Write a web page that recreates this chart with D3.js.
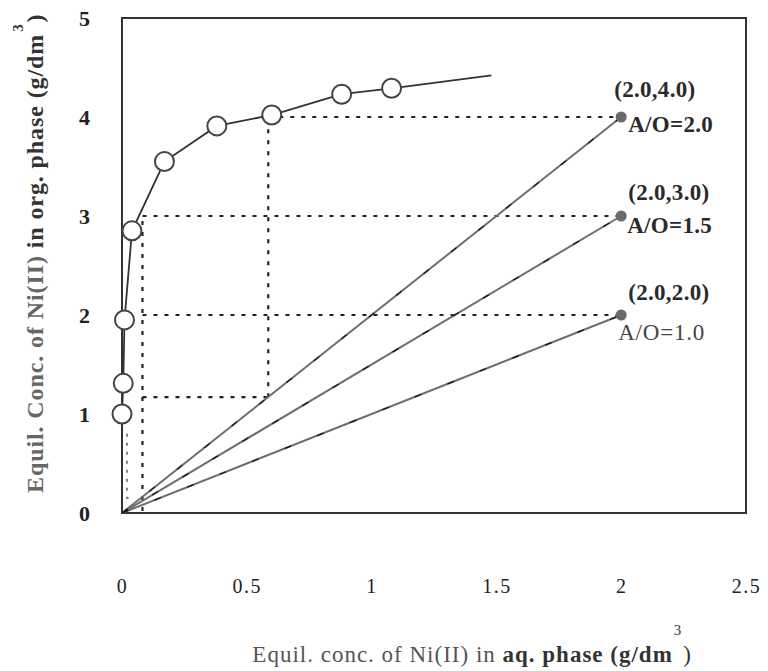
<!DOCTYPE html>
<html>
<head>
<meta charset="utf-8">
<script src="https://cdn.jsdelivr.net/npm/d3@7"></script>
<style>
  body { margin: 0; background: #fff; }
  text { font-family: "Liberation Serif", "Times New Roman", serif; }
</style>
</head>
<body>
<div id="svgTarget"></div>
<script>
// extraction isotherm (open circles)
const isoX = [0, 0.005, 0.01, 0.04, 0.17, 0.38, 0.6, 0.88, 1.08];
const isoY = [1.0, 1.31, 1.95, 2.85, 3.55, 3.91, 4.02, 4.23, 4.29];
const isoEnd = [1.48, 4.42];

// operating lines from origin
const opLabels = ["A/O=2.0", "A/O=1.5", "A/O=1.0"];
const opEndX = [2.0, 2.0, 2.0];
const opEndY = [4.0, 3.0, 2.0];
const opCoords = ["(2.0,4.0)", "(2.0,3.0)", "(2.0,2.0)"];

// McCabe-Thiele steps (dotted): [x1, y1, x2, y2]
const steps = [
  [0.63, 4.0, 2.0, 4.0],
  [0.586, 1.17, 0.586, 3.98],
  [0.082, 3.0, 2.0, 3.0],
  [0.082, 2.0, 2.0, 2.0],
  [0.082, 1.17, 0.586, 1.17],
  [0.082, 0.02, 0.082, 3.0]
];
// faint inner step near the origin
const innerStep = [[0.02, 0.8], [0.02, 0.15], [0.032, 0.15]];

const xTicks = [0, 0.5, 1, 1.5, 2, 2.5];
const yTicks = [0, 1, 2, 3, 4, 5];

const margin = { top: 18, right: 22, bottom: 158, left: 122 };
const width = 768, height = 671;
const w = width - margin.left - margin.right;
const h = height - margin.top - margin.bottom;

const svg = d3.select("#svgTarget")
  .append("svg")
    .attr("width", width)
    .attr("height", height);

const g = svg.append("g")
  .attr("transform", `translate(${margin.left}, ${margin.top})`);

const x = d3.scaleLinear().domain([0, 2.5]).range([0, w]);
const y = d3.scaleLinear().domain([0, 5]).range([h, 0]);

// axes (labels only, no ticks)
const xAxis = g.append("g")
  .attr("transform", `translate(0, ${h})`)
  .call(d3.axisBottom(x).tickValues(xTicks).tickSize(0).tickPadding(66)
    .tickFormat(d => String(d)));
xAxis.select(".domain").remove();
xAxis.selectAll("text")
  .attr("font-size", 20)
  .attr("letter-spacing", 1.5)
  .attr("fill", "#222")
  .style("font-family", "Liberation Serif");

const yAxis = g.append("g")
  .call(d3.axisLeft(y).tickValues(yTicks).tickSize(0).tickPadding(32)
    .tickFormat(d => String(d)));
yAxis.select(".domain").remove();
yAxis.selectAll("text")
  .attr("font-size", 22)
  .attr("font-weight", "bold")
  .attr("fill", "#222")
  .style("font-family", "Liberation Serif");

// frame
g.append("rect")
  .attr("x", 0).attr("y", 0)
  .attr("width", w).attr("height", h)
  .attr("fill", "none")
  .attr("stroke", "#333")
  .attr("stroke-width", 2);

// dotted construction lines
g.selectAll(".step")
  .data(steps)
  .enter()
  .append("line")
    .attr("class", "step")
    .attr("x1", d => x(d[0])).attr("y1", d => y(d[1]))
    .attr("x2", d => x(d[2])).attr("y2", d => y(d[3]))
    .attr("stroke", "#222")
    .attr("stroke-width", 2.2)
    .attr("stroke-dasharray", "4,7");

g.append("path")
  .datum(innerStep)
  .attr("d", d3.line().x(d => x(d[0])).y(d => y(d[1])))
  .attr("fill", "none")
  .attr("stroke", "#777")
  .attr("stroke-width", 1.8)
  .attr("stroke-dasharray", "3,6");

// operating lines
const ops = opEndX.map((v, i) => ({ x: v, y: opEndY[i], label: opLabels[i], coord: opCoords[i] }));

g.selectAll(".op")
  .data(ops)
  .enter()
  .append("line")
    .attr("class", "op")
    .attr("x1", x(0)).attr("y1", y(0))
    .attr("x2", d => x(d.x)).attr("y2", d => y(d.y))
    .attr("stroke", "#6e6e6e")
    .attr("stroke-width", 2);

g.selectAll(".opDash")
  .data(ops)
  .enter()
  .append("line")
    .attr("class", "opDash")
    .attr("x1", x(0)).attr("y1", y(0))
    .attr("x2", d => x(d.x)).attr("y2", d => y(d.y))
    .attr("stroke", "#111")
    .attr("stroke-width", 1.2)
    .attr("stroke-dasharray", "7,28");

g.selectAll(".opDot")
  .data(ops)
  .enter()
  .append("circle")
    .attr("class", "opDot")
    .attr("cx", d => x(d.x)).attr("cy", d => y(d.y))
    .attr("r", 5.5)
    .attr("fill", "#6a6a6a");

// labels next to the end points
const coordDx = { 4: -7, 3: 7, 2: 7 };
const coordDy = { 4: -20, 3: -16, 2: -15 };
const aoDx = { 4: 7, 3: 6, 2: -3 };
const aoDy = { 4: 15, 3: 17, 2: 25 };

g.selectAll(".coordLabel")
  .data(ops)
  .enter()
  .append("text")
    .attr("class", "coordLabel")
    .attr("x", d => x(d.x) + coordDx[d.y])
    .attr("y", d => y(d.y) + coordDy[d.y])
    .attr("font-size", 23)
    .attr("font-weight", "bold")
    .attr("letter-spacing", 0.3)
    .attr("fill", "#2a2a2a")
    .text(d => d.coord);

g.selectAll(".aoLabel")
  .data(ops)
  .enter()
  .append("text")
    .attr("class", "aoLabel")
    .attr("x", d => x(d.x) + aoDx[d.y])
    .attr("y", d => y(d.y) + aoDy[d.y])
    .attr("font-size", 23)
    .attr("font-weight", d => d.y === 2 ? "normal" : "bold")
    .attr("letter-spacing", d => d.y === 2 ? 0.8 : 0.3)
    .attr("fill", d => d.y === 2 ? "#444" : "#2a2a2a")
    .text(d => d.label);

// isotherm
const isoPts = [[0, 0]].concat(isoX.map((v, i) => [v, isoY[i]])).concat([isoEnd]);
g.append("path")
  .datum(isoPts)
  .attr("d", d3.line().x(d => x(d[0])).y(d => y(d[1])))
  .attr("fill", "none")
  .attr("stroke", "#333")
  .attr("stroke-width", 1.8);

g.selectAll(".isoPt")
  .data(isoX.map((v, i) => [v, isoY[i]]))
  .enter()
  .append("circle")
    .attr("class", "isoPt")
    .attr("cx", d => x(d[0])).attr("cy", d => y(d[1]))
    .attr("r", 9.5)
    .attr("fill", "#fff")
    .attr("stroke", "#444")
    .attr("stroke-width", 2);

// axis titles
const xTitle = svg.append("text")
  .attr("x", 692)
  .attr("y", 662)
  .attr("text-anchor", "end")
  .attr("font-size", 23)
  .attr("letter-spacing", 1)
  .attr("fill", "#333");
xTitle.append("tspan").attr("fill", "#555").text("Equil. conc. of Ni(II) in ");
xTitle.append("tspan").attr("font-weight", "bold").text("aq. phase (g/dm");
xTitle.append("tspan").attr("font-size", 15).attr("dy", -27).attr("dx", 1).text("3");
xTitle.append("tspan").attr("dy", 27).attr("dx", 1).text(")");

const yTitle = svg.append("text")
  .attr("transform", "translate(43, 493) rotate(-90)")
  .attr("text-anchor", "start")
  .attr("font-size", 24)
  .attr("font-weight", "bold")
  .attr("letter-spacing", 0.9)
  .attr("fill", "#333");
yTitle.append("tspan").attr("fill", "#666").text("Equil. Conc. of Ni(II) ");
yTitle.append("tspan").text("in org. phase  (g/dm");
yTitle.append("tspan").attr("font-size", 15).attr("dy", -20).attr("dx", 2).text("3");
yTitle.append("tspan").attr("dy", 20).attr("dx", 1).text(")");
</script>
</body>
</html>
